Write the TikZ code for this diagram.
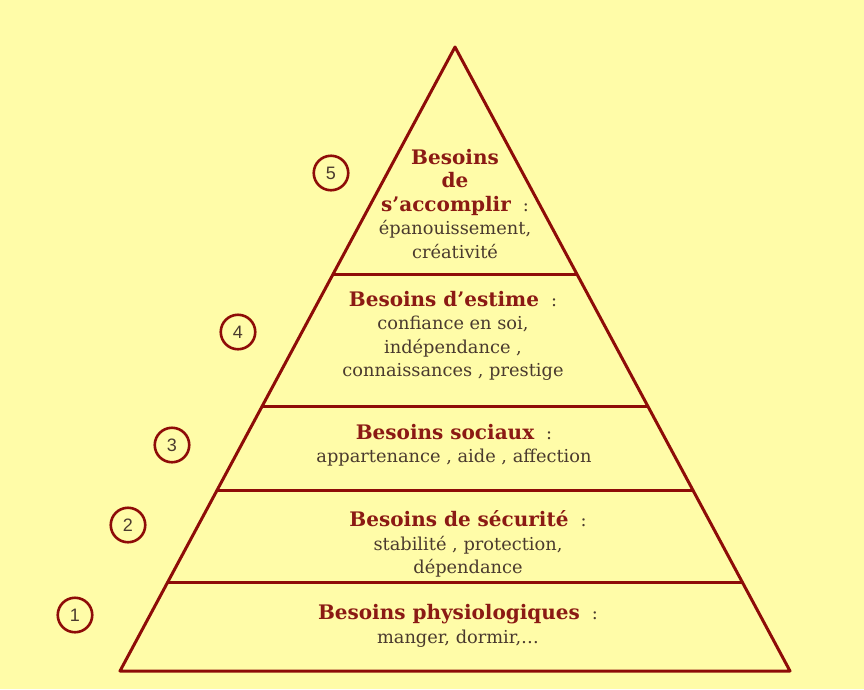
\documentclass[tikz,border=0pt]{standalone}
\usepackage{fontspec}
\setmainfont{DejaVu Serif}
\newfontfamily\numfont{Liberation Sans}

\definecolor{fond}{HTML}{FFFCA8}
\definecolor{trait}{HTML}{8E0C08}
\definecolor{titre}{HTML}{8B1A14}
\definecolor{texte}{HTML}{4A3A2E}
\newcommand{\besoin}[1]{{\fontsize{20}{23.5}\selectfont\bfseries\color{titre}#1}}

\begin{document}
\begin{tikzpicture}[x=1pt,y=-1pt,
  niveau/.style={text=texte, align=center, inner sep=0pt, font=\fontsize{17.8}{23.5}\selectfont},
  rang/.style={circle, draw=trait, line width=2.6pt, minimum size=34.5pt, inner sep=0pt, text=texte, font=\numfont\fontsize{18}{18}\selectfont},
  bord/.style={draw=trait, line width=3pt, line join=round}]
\useasboundingbox (0,0) rectangle (864,689);
\fill[fond] (0,0) rectangle (864,689);

\draw[bord] (120,671) -- (455,47) -- (790,671) -- cycle;
\draw[bord] (333,274) -- (577,274);
\draw[bord] (262,406) -- (648,406);
\draw[bord] (217,490) -- (693,490);
\draw[bord] (168,582) -- (742,582);

\node[rang] (r5) at (331,173) {5};
\node[rang] (r4) at (238,332) {4};
\node[rang] (r3) at (172,445) {3};
\node[rang] (r2) at (128,525) {2};
\node[rang] (r1) at (75,615) {1};

\node[niveau] (n5) at (455,204) {\besoin{Besoins}\\ \besoin{de}\\ \besoin{s’accomplir}\hspace{12pt}:\\ épanouissement,\\ créativité};
\node[niveau] (n4) at (453,336) {\besoin{Besoins d’estime}\hspace{12pt}:\\ confiance en soi,\\ indépendance ,\\ connaissances , prestige};
\node[niveau] (n3) at (454,445) {\besoin{Besoins sociaux}\hspace{12pt}:\\ appartenance , aide , affection};
\node[niveau] (n2) at (468,544) {\besoin{Besoins de sécurité}\hspace{12pt}:\\ stabilité , protection,\\ dépendance};
\node[niveau] (n1) at (458,626) {\besoin{Besoins physiologiques}\hspace{12pt}:\\ manger, dormir,\ldots};
\end{tikzpicture}
\end{document}
